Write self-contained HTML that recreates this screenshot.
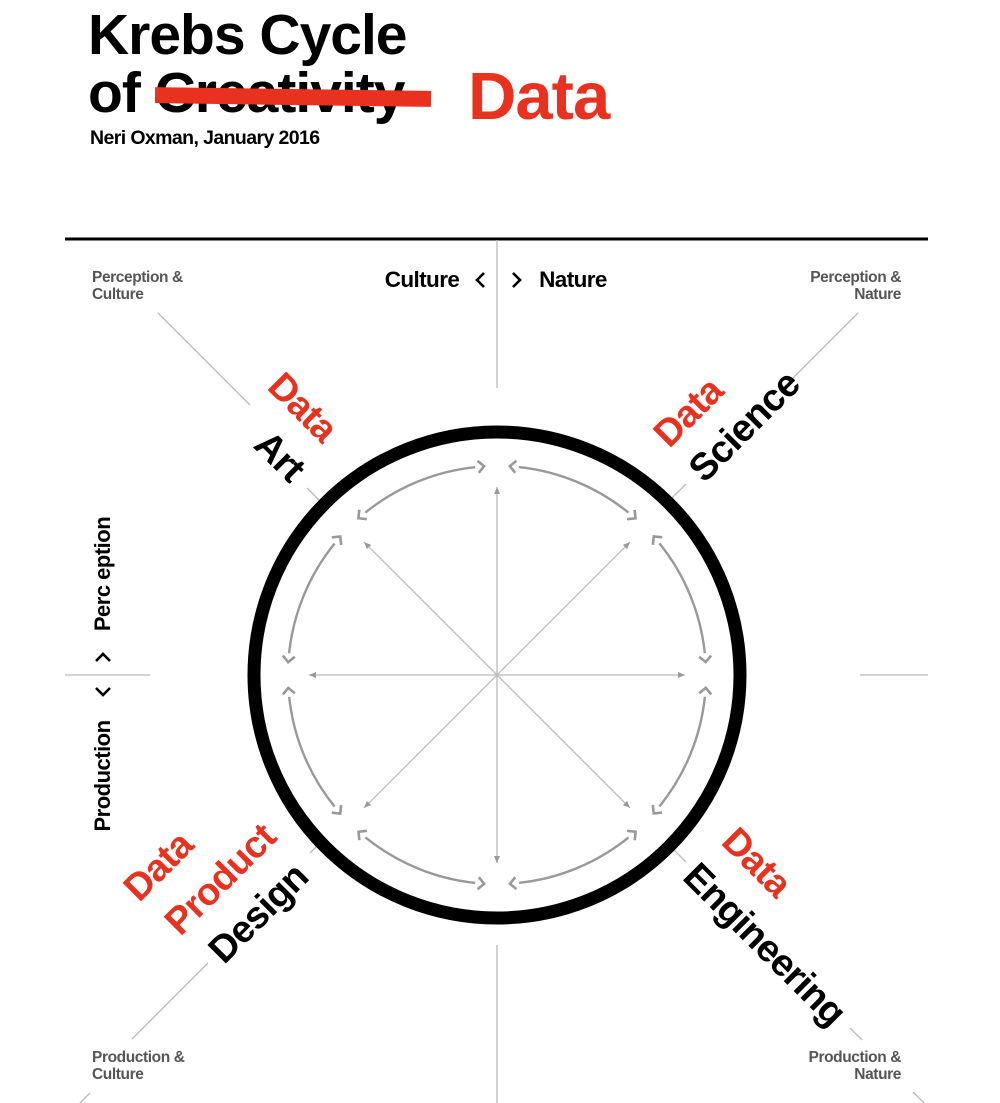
<!DOCTYPE html>
<html><head><meta charset="utf-8"><style>
html,body{margin:0;padding:0;background:#fff;}
body{width:1000px;height:1103px;position:relative;overflow:hidden;font-family:"Liberation Sans",sans-serif;font-weight:bold;}
.a{position:absolute;white-space:nowrap;}
</style></head><body>
<div class="a" style="left:88px;top:5px;font-size:57px;letter-spacing:-1px;line-height:60px;">Krebs Cycle</div>
<div class="a" style="left:88px;top:63px;font-size:57px;letter-spacing:-1px;line-height:60px;">of Creativity</div>
<div class="a" style="left:155px;top:89px;width:276px;height:16px;background:#e8321f;transform:rotate(0.8deg);"></div>
<div class="a" style="left:468px;top:60px;font-size:67px;letter-spacing:-1px;line-height:74px;color:#e8321f;">Data</div>
<div class="a" style="left:90px;top:127px;font-size:19.5px;letter-spacing:-0.6px;">Neri Oxman, January 2016</div>

<svg class="a" style="left:0;top:0" width="1000" height="1103">
<defs>
<marker id="ch" viewBox="-12 -12 24 24" markerWidth="24" markerHeight="24" markerUnits="userSpaceOnUse" orient="auto-start-reverse" refX="0" refY="0">
<path d="M3,-6 L9,0 L3,6" fill="none" stroke="#999" stroke-width="2.6"/></marker>
<marker id="tr" viewBox="-10 -10 20 20" markerWidth="20" markerHeight="20" markerUnits="userSpaceOnUse" orient="auto" refX="0" refY="0">
<path d="M-7,-3 L0,0 L-7,3 Z" fill="#999"/></marker>
<g id="seg">
<path d="M518.8,467.1 A209,209 0 0 1 628.5,512.6" fill="none" stroke="#999" stroke-width="2.4" marker-start="url(#ch)" marker-end="url(#ch)"/>
<line x1="497" y1="675" x2="497" y2="487" stroke="#bbb" stroke-width="1.3" marker-end="url(#tr)"/>
</g>
</defs>
<line x1="65" y1="239" x2="928" y2="239" stroke="#000" stroke-width="3"/>
<g stroke="#bbb" stroke-width="1.3">
<line x1="497" y1="240" x2="497" y2="388"/>
<line x1="497" y1="945" x2="497" y2="1103"/>
<line x1="65" y1="675" x2="150" y2="675"/>
<line x1="860" y1="675" x2="928" y2="675"/>
<line x1="158" y1="313" x2="250" y2="405"/>
<line x1="307" y1="488" x2="320" y2="501"/>
<line x1="858" y1="313" x2="780" y2="391"/>
<line x1="686" y1="484" x2="672" y2="498"/>
<line x1="132" y1="1039" x2="208" y2="963"/>
<line x1="310" y1="853" x2="322" y2="841"/>
<line x1="80" y1="1103" x2="90" y2="1093"/>
<line x1="674" y1="850" x2="686" y2="862"/>
<line x1="850" y1="1028" x2="862" y2="1040"/>
<line x1="913" y1="1092" x2="924" y2="1103"/>
</g>
<circle cx="497" cy="675" r="243" fill="none" stroke="#000" stroke-width="13"/>
<use href="#seg"/>
<use href="#seg" transform="rotate(45 497 675)"/>
<use href="#seg" transform="rotate(90 497 675)"/>
<use href="#seg" transform="rotate(135 497 675)"/>
<use href="#seg" transform="rotate(180 497 675)"/>
<use href="#seg" transform="rotate(225 497 675)"/>
<use href="#seg" transform="rotate(270 497 675)"/>
<use href="#seg" transform="rotate(315 497 675)"/>
<g font-family="Liberation Sans, sans-serif" font-weight="bold" text-anchor="middle">
<text x="422" y="287" font-size="22.5" letter-spacing="-0.6">Culture</text>
<text x="573" y="287" font-size="22.5" letter-spacing="-0.6">Nature</text>
<path d="M484,273 L477,280 L484,287 M513,273 L520,280 L513,287" fill="none" stroke="#000" stroke-width="2.6"/>
<path d="M96,661 L103,654 L110,661 M96,688 L103,695 L110,688" fill="none" stroke="#000" stroke-width="2.6"/>
<text transform="translate(110,574) rotate(-90)" font-size="22" letter-spacing="-0.5">Perc eption</text>
<text transform="translate(110,776) rotate(-90)" font-size="22" letter-spacing="-0.5">Production</text>
<g font-size="15.5" fill="#555" text-anchor="start" letter-spacing="-0.4">
<text x="92" y="282">Perception &amp;</text><text x="92" y="299">Culture</text>
<text x="92" y="1062">Production &amp;</text><text x="92" y="1079">Culture</text>
</g>
<g font-size="15.5" fill="#555" text-anchor="end" letter-spacing="-0.4">
<text x="901" y="282">Perception &amp;</text><text x="901" y="299">Nature</text>
<text x="901" y="1062">Production &amp;</text><text x="901" y="1079">Nature</text>
</g>
<g font-size="38" letter-spacing="-0.8">
<text transform="translate(303,407) rotate(45)" fill="#e8321f" dy="13">Data</text>
<text transform="translate(280,456) rotate(45)" dy="13">Art</text>
<text transform="translate(688,412) rotate(-45)" fill="#e8321f" dy="13">Data</text>
<text transform="translate(744,426) rotate(-45)" dy="13">Science</text>
<text transform="translate(158,866) rotate(-45)" fill="#e8321f" dy="13">Data</text>
<text transform="translate(220,879) rotate(-45)" fill="#e8321f" dy="13">Product</text>
<text transform="translate(258,913) rotate(-45)" dy="13">Design</text>
<text transform="translate(757,862) rotate(45)" fill="#e8321f" dy="13">Data</text>
<text transform="translate(765,944) rotate(45)" dy="13">Engineering</text>
</g>
</g>
</svg>
</body></html>
